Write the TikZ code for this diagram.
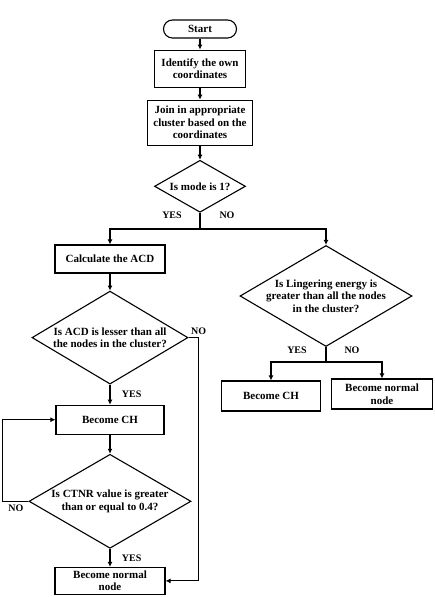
\documentclass[tikz,border=0pt]{standalone}
\usepackage{fontspec}
\setmainfont{Liberation Serif}
\usepackage{tikz}
\usetikzlibrary{positioning, arrows.meta, shapes.geometric}

\begin{document}
\begin{tikzpicture}[x=1pt, y=-1pt,
    bloco/.style={draw, line width=1.1pt, align=center, inner sep=1pt, font=\fontsize{11}{12.5}\selectfont\bfseries},
    inicio/.style={bloco, rounded corners=9pt, minimum width=73pt, minimum height=18pt},
    decisao/.style={diamond, draw, line width=1.1pt, align=center, inner sep=-40pt, font=\fontsize{11}{12.5}\selectfont\bfseries},
    seta/.style={-{Latex[length=5pt, width=5pt]}, line width=1.1pt},
    rot/.style={font=\fontsize{10}{11}\selectfont\bfseries}
]
\useasboundingbox (0,0) rectangle (435,597);
\node[inicio] (start) at (200,29) {Start};
\node[bloco, minimum width=91pt, minimum height=37pt, below=11pt of start] (ident) {Identify the own\\coordinates};
\node[bloco, minimum width=105pt, minimum height=45pt, below=12pt of ident] (join) {Join in appropriate\\cluster based on the\\coordinates};
\node[decisao, minimum width=91pt, minimum height=52pt, below=14pt of join] (modo) {Is mode is 1?};
\coordinate (div) at (200,229);

% ramo esquerdo
\node[bloco, minimum width=110pt, minimum height=28pt] (calc) at (110,259) {Calculate the ACD};
\node[decisao, minimum width=156pt, minimum height=93pt, below=17pt of calc] (acd) {Is ACD is lesser than all\\the nodes in the cluster?};
\node[bloco, minimum width=108pt, minimum height=29pt, below=20pt of acd] (ch) {Become CH};
\node[decisao, minimum width=162pt, minimum height=94pt, below=19pt of ch] (ctnr) {Is CTNR value is greater\\than or equal to 0.4?};
\node[bloco, minimum width=110pt, minimum height=27pt, below=18pt of ctnr] (normal) {Become normal\\node};

% ramo direito
\node[decisao, minimum width=172pt, minimum height=101pt] (energia) at (326,296) {Is Lingering energy is\\greater than all the nodes\\in the cluster?};
\coordinate (div2) at (326,362);
\node[bloco, minimum width=99pt, minimum height=30pt] (ch2) at (271,396) {Become CH};
\node[bloco, minimum width=101pt, minimum height=30pt] (normal2) at (382,394) {Become normal\\node};

\draw[seta] (start) -- (ident);
\draw[seta] (ident) -- (join);
\draw[seta] (join) -- (modo);
\draw[line width=1.1pt] (modo.south) -- (div);
\draw[seta] (div) -| (calc);
\draw[seta] (div) -| (energia);
\node[rot] at (172,215) {YES};
\node[rot] at (227,215) {NO};

\draw[seta] (calc) -- (acd);
\draw[seta] (acd) -- node[rot, right=8pt] {YES} (ch);
\draw[seta] (ch) -- (ctnr);
\draw[seta] (ctnr) -- node[rot, right=8pt] {YES} (normal);
\draw[seta] (acd.east) -- ++(10,0) node[rot, above=-1pt] {NO} |- (normal.east);
\draw[seta] (ctnr.west) -- ++(-26,0) node[rot, below right=0pt and 2pt] {NO} |- (ch.west);

\draw[line width=1.1pt] (energia.south) -- (div2);
\draw[seta] (div2) -| (ch2);
\draw[seta] (div2) -| (normal2);
\node[rot] at (297,350) {YES};
\node[rot] at (352,350) {NO};
\end{tikzpicture}
\end{document}
